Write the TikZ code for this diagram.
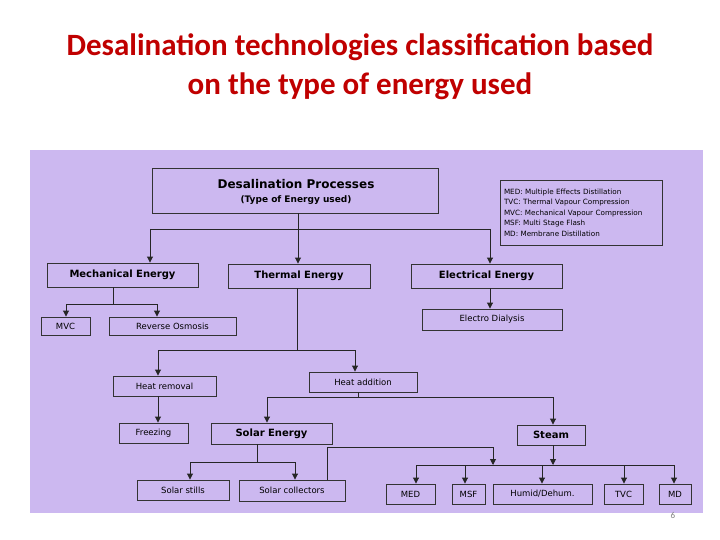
\documentclass[tikz,border=0pt]{standalone}
\usepackage{fontspec}
\setmainfont{Carlito}
\newfontfamily\diag{DejaVu Sans}
\usetikzlibrary{arrows.meta}
\definecolor{panel}{RGB}{204,184,240}
\definecolor{titlered}{RGB}{192,0,0}
\begin{document}
\begin{tikzpicture}[x=1pt,y=-1pt,
  bx/.style={draw=black!80,line width=0.9pt,fill=panel,font=\diag\fontsize{8.5}{9}\selectfont,inner sep=0pt},
  bigbx/.style={bx,font=\diag\bfseries\fontsize{10}{11}\selectfont},
  ln/.style={draw=black!85,line width=0.9pt},
  ar/.style={ln,-{Triangle[length=6pt,width=6pt]}}]
\useasboundingbox (0,0) rectangle (720,540);
\fill[white] (0,0) rectangle (720,540);
\node[font=\bfseries\fontsize{31}{39}\selectfont,text=titlered,align=center] (title) at (360,67) {Desalination technologies classification based\\on the type of energy used};
\fill[panel] (30,150) rectangle (703,513);
\node (pg) at (673,515) {\color{black!50}\fontsize{9}{10}\selectfont 6};
% boxes
\newcommand\bxat[5]{\node[#1,minimum width=#4-#2,minimum height=#5-#3] at ({(#2+#4)/2},{(#3+#5)/2})}
\bxat{bx}{152}{168}{438}{213} (desal) {};
\node[font=\diag\bfseries\fontsize{12}{13}\selectfont] (dt1) at (296,184) {Desalination Processes};
\node[font=\diag\bfseries\fontsize{9}{10}\selectfont] (dt2) at (296,200) {(Type of Energy used)};
\bxat{bx,font=\diag\fontsize{7.2}{10.5}\selectfont,align=left,text width=154pt}{500}{180}{662}{245} (legend) {MED: Multiple Effects Distillation\\TVC: Thermal Vapour Compression\\MVC: Mechanical Vapour Compression\\MSF: Multi Stage Flash\\MD: Membrane Distillation};
\bxat{bigbx}{47}{263}{198}{287} (mech) {Mechanical Energy};
\bxat{bigbx}{228}{264}{370}{288} (therm) {Thermal Energy};
\bxat{bigbx}{411}{264}{562}{288} (elec) {Electrical Energy};
\bxat{bx}{41}{317}{90}{335} (mvc) {MVC};
\bxat{bx}{109}{317}{236}{335} (ro) {Reverse Osmosis};
\bxat{bx}{422}{309}{562}{330} (ed) {Electro Dialysis};
\bxat{bx}{113}{376}{216}{396} (hr) {Heat removal};
\bxat{bx}{309}{372}{417}{392} (ha) {Heat addition};
\bxat{bx}{119}{423}{188}{443} (frz) {Freezing};
\bxat{bigbx}{211}{423}{332}{444} (sol) {Solar Energy};
\bxat{bigbx}{517}{425}{585}{445} (steam) {Steam};
\bxat{bx}{137}{480}{229}{500} (ss) {Solar stills};
\bxat{bx}{239}{480}{345}{501} (sc) {Solar collectors};
\bxat{bx}{386}{484}{435}{504} (med) {MED};
\bxat{bx}{452}{484}{485}{504} (msf) {MSF};
\bxat{bx}{493}{484}{592}{504} (hum) {Humid/Dehum.};
\bxat{bx}{604}{484}{643}{504} (tvc) {TVC};
\bxat{bx}{659}{484}{691}{504} (md) {MD};
% coordinates
\coordinate (j1) at (298,229);
\coordinate (j2) at (113,304);
\coordinate (j3) at (297,350);
\coordinate (j4) at (358,397);
\coordinate (j5) at (257,462);
\coordinate (j6) at (327,447);
\coordinate (bus) at (553,465);
% connectors
\draw[ar] (desal.south -| j1) -- (therm.north -| j1);
\draw[ln] (150,229) -- (490,229);
\draw[ar] (150,229) -- (mech.north -| 150,0);
\draw[ar] (490,229) -- (elec.north -| 490,0);
\draw[ar] (elec.south -| 490,0) -- (ed.north -| 490,0);
\draw[ln] (mech.south -| j2) -- (j2);
\draw[ln] (66,304) -- (157,304);
\draw[ar] (66,304) -- (mvc.north -| 66,0);
\draw[ar] (157,304) -- (ro.north -| 157,0);
\draw[ln] (therm.south -| j3) -- (j3);
\draw[ln] (158,350) -- (355,350);
\draw[ar] (158,350) -- (hr.north -| 158,0);
\draw[ar] (355,350) -- (ha.north -| 355,0);
\draw[ar] (hr.south -| 158,0) -- (frz.north -| 158,0);
\draw[ln] (ha.south -| j4) -- (j4);
\draw[ln] (267,397) -- (553,397);
\draw[ar] (267,397) -- (sol.north -| 267,0);
\draw[ar] (553,397) -- (steam.north -| 553,0);
\draw[ln] (sol.south -| j5) -- (j5);
\draw[ln] (190,462) -- (295,462);
\draw[ar] (190,462) -- (ss.north -| 190,0);
\draw[ar] (295,462) -- (sc.north -| 295,0);
\draw[ln] (sc.north -| j6) -- (j6) -- (493,447);
\draw[ar] (493,447) -- (493,465);
\draw[ar] (steam.south -| bus) -- (bus);
\draw[ln] (416,465) -- (674,465);
\draw[ar] (416,465) -- (med.north -| 416,0);
\draw[ar] (465,465) -- (msf.north -| 465,0);
\draw[ar] (542,465) -- (hum.north -| 542,0);
\draw[ar] (624,465) -- (tvc.north -| 624,0);
\draw[ar] (674,465) -- (md.north -| 674,0);
\end{tikzpicture}
\end{document}
